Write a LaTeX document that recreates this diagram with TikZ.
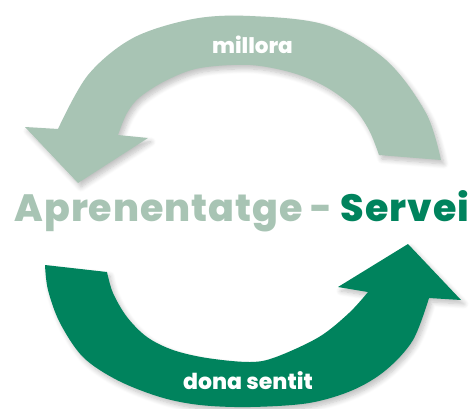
\documentclass[tikz,border=0pt]{standalone}
\usepackage{fontspec}
\IfFontExistsTF{Poppins ExtraBold}
  {\setmainfont{Poppins}[BoldFont={Poppins ExtraBold}]}
  {\setmainfont{Poppins}}
\usetikzlibrary{shadows.blur}
\definecolor{lightgreen}{HTML}{A8C4B4}
\definecolor{darkgreen}{HTML}{00835D}
\tikzset{
  arrowshape/.style={blur shadow={shadow xshift=3pt,shadow yshift=-4pt,shadow opacity=25,shadow blur radius=5pt,shadow blur steps=8}},
  arclabel/.style={text=white,inner sep=0pt,anchor=base}
}
\begin{document}
\begin{tikzpicture}[x=1pt,y=-1pt]
\useasboundingbox (0,0) rectangle (476,408);
% top arrow (millora)
\fill[lightgreen,arrowshape]
  plot[smooth,tension=0.55] coordinates {(441,160) (426,113) (386,60) (326,25) (250,16) (193,19) (133,38) (88,75) (58,129)}
  -- (25,127) -- (78,183) -- (148,138)
  -- plot[smooth,tension=0.55] coordinates {(118,135) (127,113) (140,97) (167,80) (200,68) (250,65) (293,73) (326,87) (353,107) (369,130) (379,155)}
  -- cycle;
% bottom arrow (dona sentit)
\fill[darkgreen,arrowshape]
  plot[smooth,tension=0.55] coordinates {(45,265) (48,290) (60,323) (83,357) (117,380) (160,397) (200,405) (250,407) (309,403) (353,390) (386,370) (413,340) (429,298)}
  -- (461,300) -- (408,244) -- (338,287)
  -- plot[smooth,tension=0.55] coordinates {(368,292) (349,313) (319,337) (276,357) (250,362) (207,358) (173,350) (147,337) (127,317) (113,293) (107,272)}
  -- cycle;
\node[arclabel,font=\fontsize{21.5}{24}\selectfont\bfseries] (millora) at (252.5,53) {millora};
\node[arclabel,font=\fontsize{22}{26}\selectfont\bfseries] (dona) at (248,389) {dona sentit};
\node[inner sep=0pt,anchor=base,font=\fontsize{38}{42}\selectfont\bfseries\addfontfeature{LetterSpace=2.5}] (title) at (242,221) {\textcolor{lightgreen}{Aprenentatge -} \textcolor{darkgreen}{Servei}};
\end{tikzpicture}
\end{document}
